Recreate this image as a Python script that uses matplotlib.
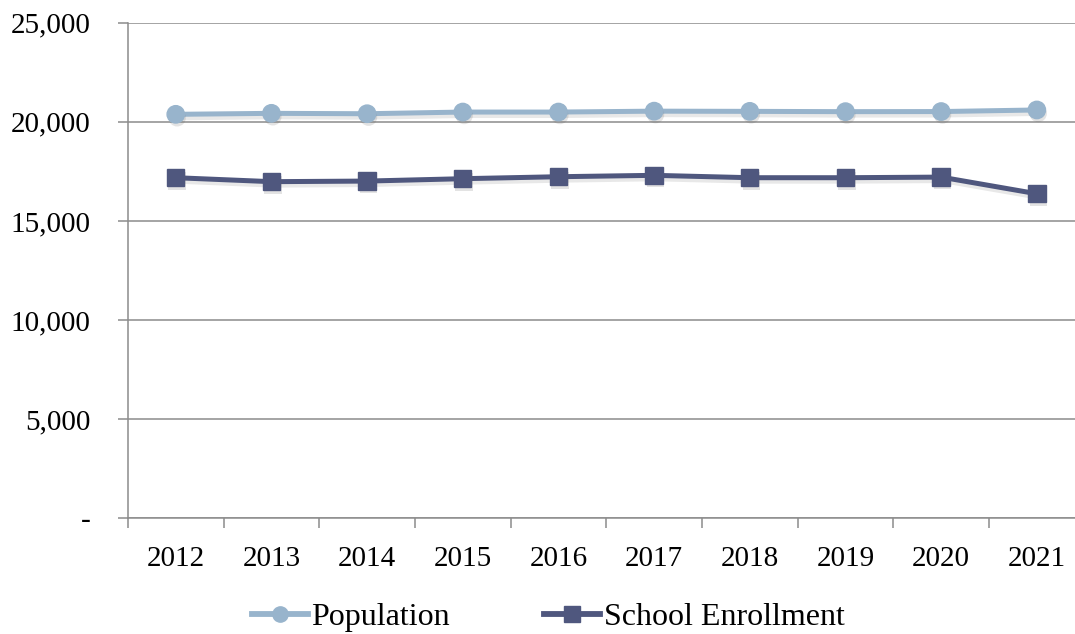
import matplotlib
matplotlib.use("Agg")
import matplotlib.pyplot as plt
import matplotlib.patheffects as pe
import numpy as np

years = ["2012", "2013", "2014", "2015", "2016", "2017", "2018", "2019", "2020", "2021"]
population = [20380, 20430, 20410, 20495, 20495, 20540, 20530, 20515, 20520, 20600]
enrollment = [17180, 16980, 17010, 17130, 17230, 17300, 17180, 17180, 17210, 16370]

pop_color = "#98b4cc"
enr_color = "#4f577e"
grid_color = "#8c8c8c"

plt.rcParams["font.family"] = ["Liberation Serif", "DejaVu Serif"]

fig = plt.figure(figsize=(10.75, 6.34), dpi=100)
ax = fig.add_axes([0.119, 0.183, 0.890, 0.781])

x = np.arange(len(years))


def draw_series(values, color, marker, label):
    # line with soft drop shadow, then markers with their own shadow on top
    line_fx = [pe.SimpleLineShadow(offset=(1, -2.5), shadow_color="#666666", alpha=0.15), pe.Normal()]
    mark_fx = [pe.SimplePatchShadow(offset=(1, -2.5), shadow_rgbFace="#666666", alpha=0.18), pe.Normal()]
    ax.plot(x, values, color=color, lw=3.6, solid_capstyle="butt", path_effects=line_fx, zorder=3)
    ax.plot(x, values, ls="none", marker=marker, ms=12.5, color=color, mec=color,
            path_effects=mark_fx, zorder=4)
    # proxy for the legend
    ax.plot([], [], color=color, lw=4.2, marker=marker, ms=11, label=label)


draw_series(population, pop_color, "o", "Population")
draw_series(enrollment, enr_color, "s", "School Enrollment")

ax.set_xlim(-0.5, len(years) - 0.5)
ax.set_ylim(0, 25000)
ax.set_yticks(np.arange(0, 25001, 5000))
ax.set_yticklabels(["-" if v == 0 else f"{v:,}" for v in range(0, 25001, 5000)])
ax.set_xticks(x)
ax.set_xticklabels(years)
ax.set_xticks(np.arange(-0.5, len(years)), minor=True)

ax.grid(axis="y", color=grid_color, lw=1.1)
ax.set_axisbelow(True)
for side in ["top", "right"]:
    ax.spines[side].set_visible(False)
for side in ["left", "bottom"]:
    ax.spines[side].set_color(grid_color)
    ax.spines[side].set_linewidth(1.1)

ax.tick_params(axis="y", length=7, width=1.1, color=grid_color, pad=20, labelsize=21)
ax.tick_params(axis="x", which="major", length=0, pad=20, labelsize=21)
ax.tick_params(axis="x", which="minor", length=7, width=1.1, color=grid_color)

fig.legend(loc="center", bbox_to_anchor=(0.51, 0.026), ncol=2, frameon=False,
           fontsize=23, handlelength=1.75, handletextpad=0.12, columnspacing=2.95)

fig.savefig("out.png", dpi=100)
